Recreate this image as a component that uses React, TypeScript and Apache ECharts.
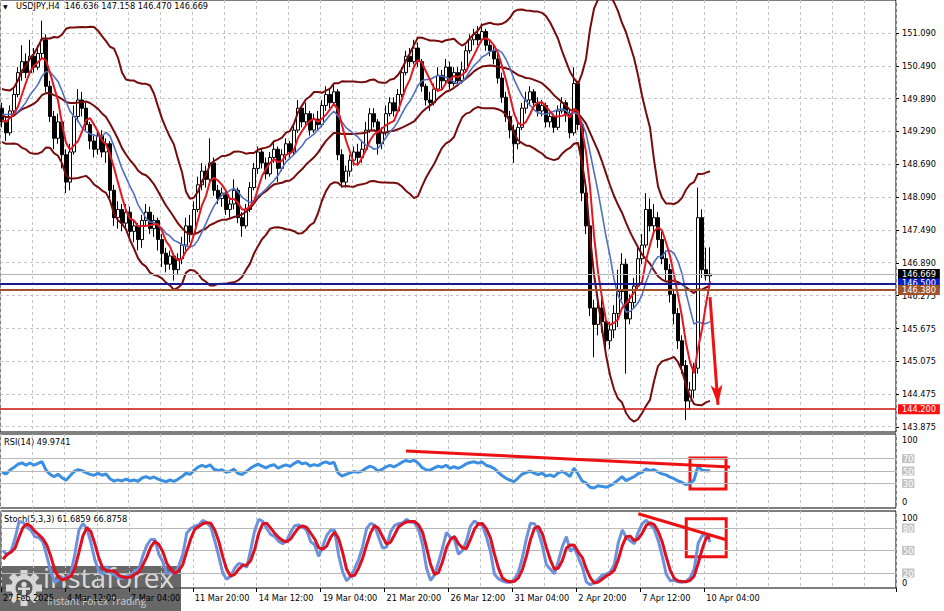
import React, { useEffect, useRef } from "react";
import * as echarts from "echarts";

// ---------- data ----------
// each bar: [open, close, low, high]
// bars before the visible window (needed to warm up the indicators)
const priorBars: number[][] = [
  [149.40, 149.55, 149.30, 149.65], [149.55, 149.80, 149.45, 149.90], [149.80, 149.70, 149.60, 149.95],
  [149.70, 149.35, 149.25, 149.75], [149.35, 149.20, 149.05, 149.45], [149.20, 149.45, 149.15, 149.55],
  [149.45, 149.75, 149.40, 149.85], [149.75, 149.95, 149.65, 150.05], [149.95, 149.70, 149.60, 150.00],
  [149.70, 149.40, 149.30, 149.75], [149.40, 149.15, 149.05, 149.50], [149.15, 149.30, 149.05, 149.40],
  [149.30, 149.60, 149.25, 149.70], [149.60, 149.85, 149.55, 149.95], [149.85, 150.00, 149.75, 150.10],
  [150.00, 149.75, 149.65, 150.05], [149.75, 149.40, 149.30, 149.80], [149.40, 149.30, 149.15, 149.45],
  [149.30, 149.55, 149.25, 149.65], [149.55, 149.70, 149.45, 149.80],
];

// visible USDJPY H4 bars, 27 Feb 20:00 .. 10 Apr 08:00
const bars: number[][] = [
  [149.70, 149.45, 149.35, 149.80], [149.45, 149.25, 149.10, 149.55], [149.25, 149.65, 149.20, 149.75],
  [149.65, 149.95, 149.55, 150.05], [149.95, 150.35, 149.90, 150.45], [150.35, 150.55, 150.20, 150.85],
  [150.55, 150.35, 150.25, 150.70], [150.35, 150.65, 150.30, 150.95], [150.65, 150.45, 150.35, 150.80],
  [150.45, 150.70, 150.40, 150.85], [150.70, 150.95, 150.60, 151.30], [150.95, 150.10, 150.00, 151.05],
  [150.10, 149.55, 149.45, 150.20], [149.55, 149.15, 148.95, 149.65], [149.15, 149.45, 149.05, 149.60],
  [149.45, 148.85, 148.60, 149.50], [148.85, 148.35, 148.15, 148.95], [148.35, 148.90, 148.20, 149.05],
  [148.90, 149.55, 148.85, 149.75], [149.55, 149.85, 149.45, 150.05], [149.85, 149.70, 149.55, 150.00],
  [149.70, 149.40, 149.30, 149.80], [149.40, 149.10, 148.95, 149.45], [149.10, 148.95, 148.80, 149.20],
  [148.95, 149.20, 148.85, 149.30], [149.20, 148.90, 148.80, 149.30], [148.90, 149.05, 148.70, 149.15],
  [149.05, 148.20, 148.05, 149.10], [148.20, 147.70, 147.55, 148.30], [147.70, 147.85, 147.50, 148.00],
  [147.85, 147.60, 147.45, 147.95], [147.60, 147.80, 147.50, 147.95], [147.80, 147.45, 147.30, 147.90],
  [147.45, 147.55, 147.25, 147.65], [147.55, 147.30, 147.10, 147.60], [147.30, 147.65, 147.15, 147.75],
  [147.65, 147.80, 147.55, 147.95], [147.80, 147.50, 147.40, 147.90], [147.50, 147.65, 147.35, 147.75],
  [147.65, 147.30, 147.10, 147.70], [147.30, 147.05, 146.80, 147.40], [147.05, 146.85, 146.70, 147.15],
  [146.85, 147.00, 146.75, 147.10], [147.00, 146.75, 146.55, 147.05], [146.75, 146.95, 146.65, 147.05],
  [146.95, 147.20, 146.85, 147.35], [147.20, 147.55, 147.10, 147.70], [147.55, 147.40, 147.25, 147.75],
  [147.40, 147.85, 147.35, 148.00], [147.85, 148.30, 147.80, 148.45], [148.30, 148.55, 148.20, 148.70],
  [148.55, 148.40, 148.25, 148.65], [148.40, 148.70, 148.35, 149.15], [148.70, 148.20, 148.10, 148.80],
  [148.20, 148.05, 147.95, 148.30], [148.05, 148.15, 147.90, 148.25], [148.15, 147.85, 147.75, 148.20],
  [147.85, 147.95, 147.70, 148.05], [147.95, 148.20, 147.85, 148.40], [148.20, 147.70, 147.60, 148.25],
  [147.70, 147.55, 147.35, 147.80], [147.55, 147.85, 147.50, 147.95], [147.85, 148.25, 147.80, 148.35],
  [148.25, 148.60, 148.20, 148.70], [148.60, 148.90, 148.50, 149.00], [148.90, 148.70, 148.60, 148.95],
  [148.70, 148.50, 148.40, 148.80], [148.50, 148.80, 148.45, 148.90], [148.80, 148.95, 148.70, 149.10],
  [148.95, 148.60, 148.35, 149.00], [148.60, 148.85, 148.55, 148.95], [148.85, 149.05, 148.75, 149.15],
  [149.05, 148.90, 148.80, 149.10], [148.90, 149.30, 148.85, 149.40], [149.30, 149.70, 149.25, 149.85],
  [149.70, 149.45, 149.35, 149.75], [149.45, 149.60, 149.40, 149.80], [149.60, 149.30, 149.20, 149.65],
  [149.30, 149.50, 149.25, 149.60], [149.50, 149.40, 149.30, 149.65], [149.40, 149.75, 149.35, 149.85],
  [149.75, 149.95, 149.65, 150.10], [149.95, 149.80, 149.70, 150.05], [149.80, 150.00, 149.75, 150.15],
  [150.00, 148.85, 148.75, 150.05], [148.85, 148.35, 148.25, 148.95], [148.35, 148.55, 148.25, 148.65],
  [148.55, 148.75, 148.45, 148.85], [148.75, 148.90, 148.65, 149.00], [148.90, 148.80, 148.65, 149.05],
  [148.80, 148.95, 148.70, 149.10], [148.95, 149.30, 148.90, 149.45], [149.30, 149.60, 149.25, 149.70],
  [149.60, 149.45, 149.35, 149.70], [149.45, 149.05, 148.85, 149.50], [149.05, 149.25, 148.95, 149.35],
  [149.25, 149.60, 149.20, 149.75], [149.60, 149.80, 149.55, 149.90], [149.80, 149.65, 149.55, 149.90],
  [149.65, 149.95, 149.60, 150.05], [149.95, 150.35, 149.90, 150.45], [150.35, 150.65, 150.30, 150.75],
  [150.65, 150.55, 150.45, 150.80], [150.55, 150.80, 150.50, 150.95], [150.80, 150.55, 150.45, 150.90],
  [150.55, 150.10, 150.00, 150.60], [150.10, 149.85, 149.75, 150.15], [149.85, 149.80, 149.65, 150.00],
  [149.80, 150.05, 149.75, 150.15], [150.05, 150.30, 150.00, 150.45], [150.30, 150.20, 150.05, 150.40],
  [150.20, 150.45, 150.15, 150.60], [150.45, 150.15, 150.05, 150.55], [150.15, 150.35, 150.10, 150.45],
  [150.35, 150.20, 150.10, 150.45], [150.20, 150.40, 150.15, 150.55], [150.40, 150.75, 150.35, 150.85],
  [150.75, 150.95, 150.70, 151.05], [150.95, 151.05, 150.85, 151.15], [151.05, 150.95, 150.85, 151.20],
  [150.95, 151.10, 150.90, 151.25], [151.10, 150.85, 150.75, 151.15], [150.85, 150.75, 150.65, 150.95],
  [150.75, 150.60, 150.50, 150.85], [150.60, 150.25, 150.15, 150.70], [150.25, 149.90, 149.80, 150.35],
  [149.90, 149.55, 149.45, 150.00], [149.55, 149.30, 149.15, 149.65], [149.30, 149.05, 148.70, 149.40],
  [149.05, 149.35, 148.95, 149.45], [149.35, 149.70, 149.30, 149.80], [149.70, 149.85, 149.60, 150.00],
  [149.85, 150.00, 149.75, 150.10], [150.00, 149.80, 149.70, 150.05], [149.80, 149.65, 149.55, 149.90],
  [149.65, 149.75, 149.55, 149.85], [149.75, 149.45, 149.35, 149.80], [149.45, 149.55, 149.35, 149.65],
  [149.55, 149.35, 149.25, 149.60], [149.35, 149.65, 149.30, 149.75], [149.65, 149.80, 149.60, 149.90],
  [149.80, 149.60, 149.45, 149.85], [149.60, 149.25, 149.15, 149.70], [149.25, 150.15, 149.20, 150.45],
  [150.15, 149.40, 149.30, 150.20], [149.40, 148.15, 148.00, 149.45], [148.15, 147.55, 147.40, 148.30],
  [147.55, 146.05, 145.90, 147.60], [146.05, 145.75, 145.15, 146.20], [145.75, 146.05, 145.55, 146.25],
  [146.05, 145.80, 145.60, 146.35], [145.80, 145.45, 145.25, 145.95], [145.45, 145.65, 145.30, 145.80],
  [145.65, 145.95, 145.50, 146.10], [145.95, 146.35, 145.70, 146.75], [146.35, 146.85, 146.20, 147.05],
  [146.85, 145.85, 144.85, 146.95], [145.85, 146.15, 145.75, 146.30], [146.15, 146.45, 146.05, 146.60],
  [146.45, 146.95, 146.40, 147.15], [146.95, 147.20, 146.85, 147.40], [147.20, 147.85, 147.15, 148.15],
  [147.85, 147.55, 147.45, 148.05], [147.55, 147.70, 147.40, 147.95], [147.70, 147.30, 147.15, 147.80],
  [147.30, 146.95, 146.85, 147.45], [146.95, 146.75, 146.55, 147.10], [146.75, 146.30, 146.15, 146.85],
  [146.30, 145.95, 145.75, 146.40], [145.95, 145.45, 145.30, 146.05], [145.45, 145.00, 144.85, 145.55],
  [145.00, 144.35, 144.00, 145.10], [144.35, 144.55, 144.20, 144.70], [144.55, 144.95, 144.40, 145.05],
  [144.95, 147.70, 144.85, 148.25], [147.70, 146.75, 146.60, 147.85], [146.75, 146.64, 146.55, 147.15],
  [146.636, 146.669, 146.470, 147.158],
];

const visibleSlots = 224;
const timeTickIndex = [0, 16, 32, 48, 64, 80, 96, 112, 128, 144, 160, 176];
const timeTickLabels = [
  "27 Feb 2025", "4 Mar 12:00", "7 Mar 04:00", "11 Mar 20:00", "14 Mar 12:00", "19 Mar 04:00",
  "21 Mar 20:00", "26 Mar 12:00", "31 Mar 04:00", "2 Apr 20:00", "7 Apr 12:00", "10 Apr 04:00",
];
const priceTicks = [143.875, 144.475, 145.075, 145.675, 146.275, 146.875, 147.475, 148.075, 148.675, 149.275, 149.875, 150.475, 151.075];
const priceTickLabels = ["143.875", "144.475", "145.075", "145.675", "146.275", "146.890", "147.490", "148.090", "148.690", "149.290", "149.890", "150.490", "151.090"];

const levelPrices = [146.669, 146.5, 146.38, 144.2];
const levelLabels = ["146.669", "146.500", "146.380", "144.200"];

const rsiTicks = [0, 30, 50, 70, 100];
const rsiLevels = [30, 50, 70];
const stochTicks = [0, 20, 50, 80, 100];
const stochLevels = [20, 50, 80];

// hand-drawn annotations (bar index, value)
const arrowFrom = [177, 146.25];
const arrowTo = [179, 144.28];
const rsiTrend = [[101, 82.3], [182, 56.5]];
const rsiBox = [[172, 71], [181, 21]];
const stochTrend = [[159, 99], [181, 64.4]];
const stochBox = [[171, 92.4], [181, 41.7]];

const headerText = "USDJPY,H4  146.636 147.158 146.470 146.669";
const rsiText = "RSI(14) 49.9741";
const stochText = "Stoch(5,3,3) 61.6859 66.8758";

// ---------- styles ----------
const FONT = '"DejaVu Sans", sans-serif';
const FS = 8.2;
const levelColors = ["#000000", "#0c1cc0", "#a0522d", "#ff0f0f"];
const levelLineColors = ["#b4b4b4", "#1a1a90", "#a0522d", "#cc1010"];
const levelLineWidths = [1, 2, 2, 1.5];

// ---------- indicators ----------
const allBars = [...priorBars, ...bars];
const off = priorBars.length;
const closes = allBars.map((b) => b[1]);
const lows = allBars.map((b) => b[2]);
const highs = allBars.map((b) => b[3]);

const sma = (arr: (number | null)[], n: number, i: number): number | null => {
  if (i < n - 1) return null;
  let s = 0;
  for (let k = i - n + 1; k <= i; k++) {
    const v = arr[k];
    if (v == null) return null;
    s += v;
  }
  return s / n;
};
const stdev = (n: number, i: number): number | null => {
  const m = sma(closes, n, i);
  if (m == null) return null;
  let s = 0;
  for (let k = i - n + 1; k <= i; k++) s += (closes[k] - m) ** 2;
  return Math.sqrt(s / n);
};
const visible = (fn: (i: number) => number | null) => bars.map((_, j) => fn(off + j));

const ma5 = visible((i) => sma(closes, 5, i));
const ma10 = visible((i) => sma(closes, 10, i));
const bbMid = visible((i) => sma(closes, 20, i));
const bbUp = visible((i) => {
  const m = sma(closes, 20, i);
  const s = stdev(20, i);
  return m == null || s == null ? null : m + 2 * s;
});
const bbLow = visible((i) => {
  const m = sma(closes, 20, i);
  const s = stdev(20, i);
  return m == null || s == null ? null : m - 2 * s;
});

const rsiAll: (number | null)[] = allBars.map(() => null);
{
  let ag = 0;
  let al = 0;
  for (let i = 1; i <= 14; i++) {
    const d = closes[i] - closes[i - 1];
    if (d > 0) ag += d;
    else al -= d;
  }
  ag /= 14;
  al /= 14;
  rsiAll[14] = al === 0 ? 100 : 100 - 100 / (1 + ag / al);
  for (let i = 15; i < closes.length; i++) {
    const d = closes[i] - closes[i - 1];
    ag = (ag * 13 + Math.max(d, 0)) / 14;
    al = (al * 13 + Math.max(-d, 0)) / 14;
    rsiAll[i] = al === 0 ? 100 : 100 - 100 / (1 + ag / al);
  }
}
const rsi = visible((i) => rsiAll[i]);

const kAll: (number | null)[] = allBars.map((_, i) => {
  if (i < 6) return null;
  let num = 0;
  let den = 0;
  for (let j = i - 2; j <= i; j++) {
    let ll = Infinity;
    let hh = -Infinity;
    for (let k = j - 4; k <= j; k++) {
      ll = Math.min(ll, lows[k]);
      hh = Math.max(hh, highs[k]);
    }
    num += closes[j] - ll;
    den += hh - ll;
  }
  return den === 0 ? 100 : (num / den) * 100;
});
const dAll = allBars.map((_, i) => sma(kAll, 3, i));
const stochK = visible((i) => kAll[i]);
const stochD = visible((i) => dAll[i]);

// ---------- chart ----------
const categories = Array.from({ length: visibleSlots }, (_, i) => String(i));
const timeLabelMap: Record<number, string> = {};
timeTickIndex.forEach((idx, k) => (timeLabelMap[idx] = timeTickLabels[k]));

const vSplit = {
  show: true,
  interval: (i: number) => i % 8 === 0,
  lineStyle: { color: "#c4c4c4", type: [3, 3] as any, width: 1 },
};

function xAxisFor(gridIndex: number, withLabels: boolean) {
  return {
    type: "category",
    gridIndex,
    data: categories,
    boundaryGap: true,
    axisLine: { show: false },
    axisTick: withLabels
      ? { show: true, interval: (i: number) => timeLabelMap[i] !== undefined, length: 4, lineStyle: { color: "#000" } }
      : { show: false },
    axisLabel: withLabels
      ? {
          show: true,
          interval: (i: number) => timeLabelMap[i] !== undefined,
          formatter: (_v: string, i: number) => timeLabelMap[i] ?? "",
          align: "left",
          margin: 6,
          color: "#000",
          fontFamily: FONT,
          fontSize: FS,
        }
      : { show: false },
    splitLine: vSplit,
  };
}

function buildOption(): any {
  const lineBase = (data: (number | null)[], color: string, width: number, x: number) => ({
    type: "line",
    xAxisIndex: x,
    yAxisIndex: x,
    data,
    showSymbol: false,
    symbol: "none",
    connectNulls: false,
    lineStyle: { color, width },
    silent: true,
  });

  const graphicTexts = [
    { type: "text", x: 3, y: 3, style: { text: "▼", fontSize: 6, fontFamily: FONT, fill: "#000" } },
    { type: "text", x: 16, y: 2, style: { text: headerText, fontSize: FS, fontFamily: FONT, fill: "#000" } },
    { type: "text", x: 4, y: 438, style: { text: rsiText, fontSize: FS, fontFamily: FONT, fill: "#000" } },
    { type: "text", x: 4, y: 515, style: { text: stochText, fontSize: FS, fontFamily: FONT, fill: "#000" } },
  ];

  const gearTeeth = Array.from({ length: 8 }, (_, k) => ({
    type: "rect",
    shape: { x: -3.5, y: -18, width: 7, height: 8 },
    rotation: (k * Math.PI) / 4,
    style: { fill: "#d8d8d8" },
  }));

  const logo = {
    type: "group",
    children: [
      { type: "rect", shape: { x: 0, y: 566, width: 181, height: 45 }, style: { fill: "rgba(78,78,78,0.86)" } },
      {
        type: "group",
        x: 24,
        y: 588,
        children: [
          ...gearTeeth,
          { type: "circle", shape: { cx: 0, cy: 0, r: 13 }, style: { fill: "#d8d8d8" } },
          { type: "circle", shape: { cx: 0, cy: 0, r: 8.5 }, style: { fill: "#5a5a5a" } },
          { type: "circle", shape: { cx: 0, cy: -3.5, r: 2.8 }, style: { fill: "#d8d8d8" } },
          { type: "rect", shape: { x: -2, y: 0, width: 4, height: 7 }, style: { fill: "#d8d8d8" } },
          { type: "rect", shape: { x: -6, y: -0.5, width: 12, height: 2.5 }, style: { fill: "#d8d8d8" } },
        ],
      },
      {
        type: "text",
        x: 43,
        y: 563,
        style: { text: "instaforex", fontSize: 28, fontFamily: '"Open Sans", sans-serif', fill: "#dadada" },
      },
      {
        type: "text",
        x: 47,
        y: 596,
        style: { text: "Instant Forex Trading", fontSize: 10, fontFamily: '"Open Sans", sans-serif', fill: "#cfcfcf" },
      },
    ],
  };

  const levelMarkData = levelPrices.map((p, k) => ({
    yAxis: p,
    lineStyle: { color: levelLineColors[k], width: levelLineWidths[k], type: "solid" },
    label: {
      show: true,
      position: "end",
      distance: 2,
      formatter: levelLabels[k],
      backgroundColor: levelColors[k],
      color: "#fff",
      padding: [1, 4, 0, 4],
      lineHeight: 9,
      fontSize: FS,
      fontFamily: FONT,
    },
  }));

  return {
    animation: false,
    backgroundColor: "#ffffff",
    textStyle: { fontFamily: FONT },
    grid: [
      { left: -1, top: -1, width: 897, height: 433, show: true, borderColor: "#000", borderWidth: 1 },
      { left: -1, top: 434, width: 897, height: 74, show: true, borderColor: "#000", borderWidth: 1 },
      { left: -1, top: 511, width: 897, height: 77, show: true, borderColor: "#000", borderWidth: 1 },
    ],
    xAxis: [xAxisFor(0, false), xAxisFor(1, false), xAxisFor(2, true)],
    yAxis: [
      {
        type: "value",
        gridIndex: 0,
        position: "right",
        min: 143.784,
        max: 151.677,
        axisLine: { show: false },
        splitLine: { show: false },
        axisTick: { show: true, customValues: priceTicks, length: 3, lineStyle: { color: "#000" } },
        axisLabel: {
          show: true,
          customValues: priceTicks,
          margin: 6,
          color: "#000",
          fontFamily: FONT,
          fontSize: FS,
          formatter: (v: number) => {
            const k = Math.round((v - priceTicks[0]) / 0.6);
            return priceTickLabels[k] ?? "";
          },
        },
      },
      {
        type: "value",
        gridIndex: 1,
        position: "right",
        min: -9.68,
        max: 109.7,
        axisLine: { show: false },
        splitLine: { show: false },
        axisTick: { show: false },
        axisLabel: {
          show: true,
          customValues: rsiTicks,
          margin: 6,
          fontFamily: FONT,
          fontSize: FS,
          formatter: (v: number) => (rsiLevels.includes(v) ? `{g|${v}}` : `{n|${v}}`),
          rich: {
            g: { backgroundColor: "#c4c4c4", color: "#fff", padding: [1, 1, 0, 1], fontSize: FS, fontFamily: FONT },
            n: { color: "#000", fontSize: FS, fontFamily: FONT },
          },
        },
      },
      {
        type: "value",
        gridIndex: 2,
        position: "right",
        min: 0,
        max: 102.67,
        axisLine: { show: false },
        splitLine: { show: false },
        axisTick: { show: false },
        axisLabel: {
          show: true,
          customValues: stochTicks,
          margin: 6,
          fontFamily: FONT,
          fontSize: FS,
          formatter: (v: number) =>
            stochLevels.includes(v) ? `{g|${v}}` : v === 100 ? `{t|${v}}` : `{b|${v}}`,
          rich: {
            g: { backgroundColor: "#c4c4c4", color: "#fff", padding: [1, 1, 0, 1], fontSize: FS, fontFamily: FONT },
            t: { color: "#000", padding: [10, 0, 0, 0], fontSize: FS, fontFamily: FONT },
            b: { color: "#000", padding: [0, 0, 10, 0], fontSize: FS, fontFamily: FONT },
          },
        },
      },
    ],
    series: [
      // horizontal dashed price grid
      {
        type: "line",
        xAxisIndex: 0,
        yAxisIndex: 0,
        data: [],
        silent: true,
        markLine: {
          silent: true,
          z: 1,
          symbol: "none",
          animation: false,
          label: { show: false },
          lineStyle: { color: "#c4c4c4", type: [3, 3], width: 1 },
          data: priceTicks.map((v) => ({ yAxis: v })),
        },
      },
      {
        type: "candlestick",
        xAxisIndex: 0,
        yAxisIndex: 0,
        data: bars.map((b) => [b[0], b[1], b[2], b[3]]),
        barWidth: 3,
        silent: true,
        itemStyle: { color: "#ffffff", color0: "#000000", borderColor: "#000000", borderColor0: "#000000", borderWidth: 1 },
      },
      lineBase(bbUp, "#760c0c", 2, 0),
      lineBase(bbMid, "#760c0c", 2, 0),
      lineBase(bbLow, "#760c0c", 2, 0),
      lineBase(ma10, "#4f6fc0", 1.6, 0),
      {
        ...lineBase(ma5, "#e01822", 2, 0),
        markLine: {
          silent: true,
          animation: false,
          symbol: "none",
          data: [
            ...levelMarkData,
            [
              { coord: arrowFrom, symbol: "none" },
              { coord: arrowTo, symbol: "arrow", symbolSize: [9, 20] },
            ].map((p: any) => ({ ...p, lineStyle: { color: "#ee1111", width: 3, type: "solid" }, label: { show: false } })),
          ],
        },
      },
      // RSI panel
      {
        ...lineBase(rsi, "#3a8fe3", 3, 1),
        markLine: {
          silent: true,
          animation: false,
          symbol: "none",
          label: { show: false },
          data: [
            ...rsiLevels.map((v) => ({ yAxis: v, lineStyle: { color: "#b8b8b8", width: 1, type: "solid" } })),
            [{ coord: rsiTrend[0] }, { coord: rsiTrend[1] }].map((p) => ({ ...p, lineStyle: { color: "#ee1111", width: 3, type: "solid" } })),
          ],
        },
        markArea: {
          silent: true,
          itemStyle: { color: "rgba(0,0,0,0)", borderColor: "#ee1111", borderWidth: 3 },
          data: [[{ coord: rsiBox[0] }, { coord: rsiBox[1] }]],
        },
      },
      // Stochastic panel
      {
        ...lineBase(stochK, "#6d92db", 3, 2),
        markLine: {
          silent: true,
          animation: false,
          symbol: "none",
          label: { show: false },
          z: 1,
          data: stochLevels.map((v) => ({ yAxis: v, lineStyle: { color: "#b8b8b8", width: 1, type: "solid" } })),
        },
      },
      {
        ...lineBase(stochD, "#dc1020", 3, 2),
        markLine: {
          silent: true,
          animation: false,
          symbol: "none",
          label: { show: false },
          data: [
            [{ coord: stochTrend[0] }, { coord: stochTrend[1] }].map((p) => ({ ...p, lineStyle: { color: "#ee1111", width: 3, type: "solid" } })),
          ],
        },
        markArea: {
          silent: true,
          itemStyle: { color: "rgba(0,0,0,0)", borderColor: "#ee1111", borderWidth: 3 },
          data: [[{ coord: stochBox[0] }, { coord: stochBox[1] }]],
        },
      },
    ],
    graphic: [...graphicTexts, logo],
  };
}

export default function App() {
  const ref = useRef<HTMLDivElement>(null);
  useEffect(() => {
    if (!ref.current) return;
    const chart = echarts.init(ref.current, undefined, { renderer: "svg" });
    chart.setOption(buildOption());
    return () => chart.dispose();
  }, []);
  return (
    <div
      ref={ref}
      style={{ position: "fixed", left: 0, top: 0, width: 944, height: 611, background: "#fff" }}
    />
  );
}
